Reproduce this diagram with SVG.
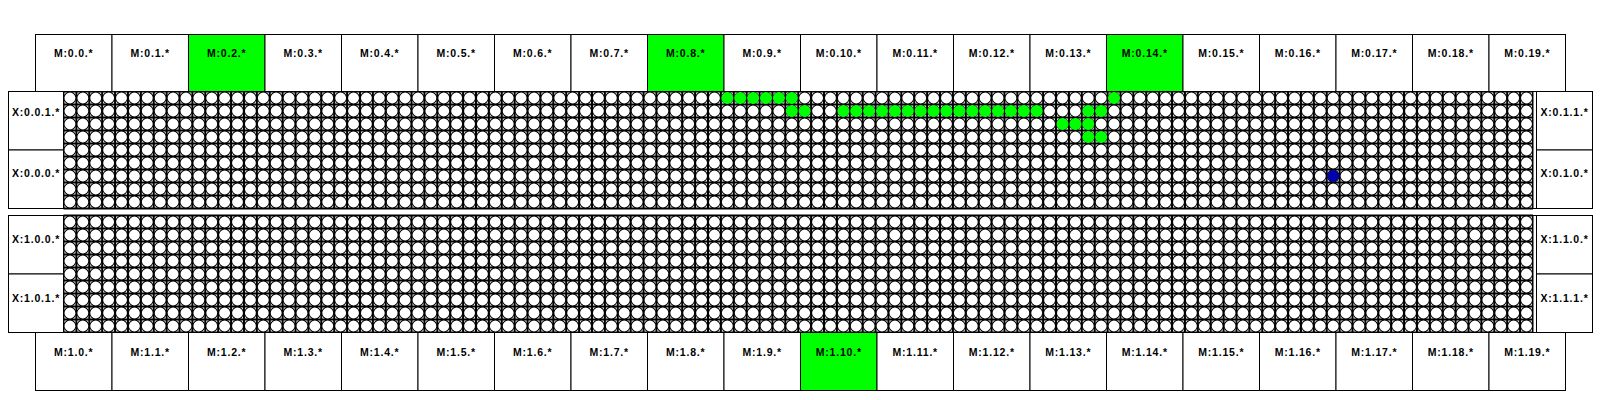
<svg xmlns="http://www.w3.org/2000/svg" width="1600" height="400" viewBox="0 0 1600 400">
<style>
.b{fill:#fff;stroke:#000;stroke-width:1}
.g{fill:#00ff00;stroke:#000;stroke-width:1}
text{font-family:"Liberation Sans",Arial,Helvetica,sans-serif;font-weight:bold;font-size:10.5px;letter-spacing:0.8px;text-anchor:middle;fill:#000}
.vl{fill:none;stroke:#000;stroke-width:117;stroke-dasharray:2 10.89}
.hl{fill:none;stroke:#000;stroke-width:1469.5;stroke-dasharray:2 11}
.ring{fill:none;stroke:#000;stroke-width:12.9;stroke-linecap:round;stroke-dasharray:0 12.89}
.hole{fill:none;stroke:#fff;stroke-width:10.9;stroke-linecap:round;stroke-dasharray:0 12.89}
.on{fill:#00ff00}
.src{fill:#0000aa}
</style>
<rect width="1600" height="400" fill="#fff"/>

<g id="grid0">
<rect class="b" x="63.5" y="91.5" width="1473" height="117"/>
<path class="vl" d="M62.5,150H1533.5"/>
<path class="hl" d="M798.25,90.5V209.5"/>
<path class="ring" d="M69.945,98H1527M69.945,111H1527M69.945,124H1527M69.945,137H1527M69.945,150H1527M69.945,163H1527M69.945,176H1527M69.945,189H1527M69.945,202H1527"/>
<path class="hole" d="M69.945,98H1527M69.945,111H1527M69.945,124H1527M69.945,137H1527M69.945,150H1527M69.945,163H1527M69.945,176H1527M69.945,189H1527M69.945,202H1527"/>
<rect x="63.5" y="91.5" width="1473" height="117" fill="none" stroke="#000"/>
</g>
<g id="grid1">
<rect class="b" x="63.5" y="215.5" width="1473" height="117"/>
<path class="vl" d="M62.5,274H1533.5"/>
<path class="hl" d="M798.25,214.5V333.5"/>
<path class="ring" d="M69.945,222H1527M69.945,235H1527M69.945,248H1527M69.945,261H1527M69.945,274H1527M69.945,287H1527M69.945,300H1527M69.945,313H1527M69.945,326H1527"/>
<path class="hole" d="M69.945,222H1527M69.945,235H1527M69.945,248H1527M69.945,261H1527M69.945,274H1527M69.945,287H1527M69.945,300H1527M69.945,313H1527M69.945,326H1527"/>
<rect x="63.5" y="215.5" width="1473" height="117" fill="none" stroke="#000"/>
</g>

<g id="active-cells">
<circle class="on" cx="727.335" cy="98" r="6"/>
<circle class="on" cx="740.225" cy="98" r="6"/>
<circle class="on" cx="753.115" cy="98" r="6"/>
<circle class="on" cx="766.005" cy="98" r="6"/>
<circle class="on" cx="778.895" cy="98" r="6"/>
<circle class="on" cx="791.785" cy="98" r="6"/>
<circle class="on" cx="1114.035" cy="98" r="6"/>
<circle class="on" cx="791.785" cy="111" r="6"/>
<circle class="on" cx="804.675" cy="111" r="6"/>
<circle class="on" cx="843.345" cy="111" r="6"/>
<circle class="on" cx="856.235" cy="111" r="6"/>
<circle class="on" cx="869.125" cy="111" r="6"/>
<circle class="on" cx="882.015" cy="111" r="6"/>
<circle class="on" cx="894.905" cy="111" r="6"/>
<circle class="on" cx="907.795" cy="111" r="6"/>
<circle class="on" cx="920.685" cy="111" r="6"/>
<circle class="on" cx="933.575" cy="111" r="6"/>
<circle class="on" cx="946.465" cy="111" r="6"/>
<circle class="on" cx="959.355" cy="111" r="6"/>
<circle class="on" cx="972.245" cy="111" r="6"/>
<circle class="on" cx="985.135" cy="111" r="6"/>
<circle class="on" cx="998.025" cy="111" r="6"/>
<circle class="on" cx="1010.915" cy="111" r="6"/>
<circle class="on" cx="1023.805" cy="111" r="6"/>
<circle class="on" cx="1036.695" cy="111" r="6"/>
<circle class="on" cx="1088.255" cy="111" r="6"/>
<circle class="on" cx="1101.145" cy="111" r="6"/>
<circle class="on" cx="1062.475" cy="124" r="6"/>
<circle class="on" cx="1075.365" cy="124" r="6"/>
<circle class="on" cx="1088.255" cy="124" r="6"/>
<circle class="on" cx="1088.255" cy="137" r="6"/>
<circle class="on" cx="1101.145" cy="137" r="6"/>
<circle class="src" cx="1333.165" cy="176" r="6"/>
</g>

<g id="m0-0" transform="translate(35.5,34.5)"><rect class="b" width="76.5" height="57"/><text x="38.25" y="22.5">M:0.0.*</text></g>
<g id="m0-1" transform="translate(112,34.5)"><rect class="b" width="76.5" height="57"/><text x="38.25" y="22.5">M:0.1.*</text></g>
<g id="m0-2" transform="translate(188.5,34.5)"><rect class="g" width="76.5" height="57"/><text x="38.25" y="22.5">M:0.2.*</text></g>
<g id="m0-3" transform="translate(265,34.5)"><rect class="b" width="76.5" height="57"/><text x="38.25" y="22.5">M:0.3.*</text></g>
<g id="m0-4" transform="translate(341.5,34.5)"><rect class="b" width="76.5" height="57"/><text x="38.25" y="22.5">M:0.4.*</text></g>
<g id="m0-5" transform="translate(418,34.5)"><rect class="b" width="76.5" height="57"/><text x="38.25" y="22.5">M:0.5.*</text></g>
<g id="m0-6" transform="translate(494.5,34.5)"><rect class="b" width="76.5" height="57"/><text x="38.25" y="22.5">M:0.6.*</text></g>
<g id="m0-7" transform="translate(571,34.5)"><rect class="b" width="76.5" height="57"/><text x="38.25" y="22.5">M:0.7.*</text></g>
<g id="m0-8" transform="translate(647.5,34.5)"><rect class="g" width="76.5" height="57"/><text x="38.25" y="22.5">M:0.8.*</text></g>
<g id="m0-9" transform="translate(724,34.5)"><rect class="b" width="76.5" height="57"/><text x="38.25" y="22.5">M:0.9.*</text></g>
<g id="m0-10" transform="translate(800.5,34.5)"><rect class="b" width="76.5" height="57"/><text x="38.25" y="22.5">M:0.10.*</text></g>
<g id="m0-11" transform="translate(877,34.5)"><rect class="b" width="76.5" height="57"/><text x="38.25" y="22.5">M:0.11.*</text></g>
<g id="m0-12" transform="translate(953.5,34.5)"><rect class="b" width="76.5" height="57"/><text x="38.25" y="22.5">M:0.12.*</text></g>
<g id="m0-13" transform="translate(1030,34.5)"><rect class="b" width="76.5" height="57"/><text x="38.25" y="22.5">M:0.13.*</text></g>
<g id="m0-14" transform="translate(1106.5,34.5)"><rect class="g" width="76.5" height="57"/><text x="38.25" y="22.5">M:0.14.*</text></g>
<g id="m0-15" transform="translate(1183,34.5)"><rect class="b" width="76.5" height="57"/><text x="38.25" y="22.5">M:0.15.*</text></g>
<g id="m0-16" transform="translate(1259.5,34.5)"><rect class="b" width="76.5" height="57"/><text x="38.25" y="22.5">M:0.16.*</text></g>
<g id="m0-17" transform="translate(1336,34.5)"><rect class="b" width="76.5" height="57"/><text x="38.25" y="22.5">M:0.17.*</text></g>
<g id="m0-18" transform="translate(1412.5,34.5)"><rect class="b" width="76.5" height="57"/><text x="38.25" y="22.5">M:0.18.*</text></g>
<g id="m0-19" transform="translate(1489,34.5)"><rect class="b" width="76.5" height="57"/><text x="38.25" y="22.5">M:0.19.*</text></g>

<g id="m1-0" transform="translate(35.5,332.5)"><rect class="b" width="76.5" height="58"/><text x="38.25" y="23">M:1.0.*</text></g>
<g id="m1-1" transform="translate(112,332.5)"><rect class="b" width="76.5" height="58"/><text x="38.25" y="23">M:1.1.*</text></g>
<g id="m1-2" transform="translate(188.5,332.5)"><rect class="b" width="76.5" height="58"/><text x="38.25" y="23">M:1.2.*</text></g>
<g id="m1-3" transform="translate(265,332.5)"><rect class="b" width="76.5" height="58"/><text x="38.25" y="23">M:1.3.*</text></g>
<g id="m1-4" transform="translate(341.5,332.5)"><rect class="b" width="76.5" height="58"/><text x="38.25" y="23">M:1.4.*</text></g>
<g id="m1-5" transform="translate(418,332.5)"><rect class="b" width="76.5" height="58"/><text x="38.25" y="23">M:1.5.*</text></g>
<g id="m1-6" transform="translate(494.5,332.5)"><rect class="b" width="76.5" height="58"/><text x="38.25" y="23">M:1.6.*</text></g>
<g id="m1-7" transform="translate(571,332.5)"><rect class="b" width="76.5" height="58"/><text x="38.25" y="23">M:1.7.*</text></g>
<g id="m1-8" transform="translate(647.5,332.5)"><rect class="b" width="76.5" height="58"/><text x="38.25" y="23">M:1.8.*</text></g>
<g id="m1-9" transform="translate(724,332.5)"><rect class="b" width="76.5" height="58"/><text x="38.25" y="23">M:1.9.*</text></g>
<g id="m1-10" transform="translate(800.5,332.5)"><rect class="g" width="76.5" height="58"/><text x="38.25" y="23">M:1.10.*</text></g>
<g id="m1-11" transform="translate(877,332.5)"><rect class="b" width="76.5" height="58"/><text x="38.25" y="23">M:1.11.*</text></g>
<g id="m1-12" transform="translate(953.5,332.5)"><rect class="b" width="76.5" height="58"/><text x="38.25" y="23">M:1.12.*</text></g>
<g id="m1-13" transform="translate(1030,332.5)"><rect class="b" width="76.5" height="58"/><text x="38.25" y="23">M:1.13.*</text></g>
<g id="m1-14" transform="translate(1106.5,332.5)"><rect class="b" width="76.5" height="58"/><text x="38.25" y="23">M:1.14.*</text></g>
<g id="m1-15" transform="translate(1183,332.5)"><rect class="b" width="76.5" height="58"/><text x="38.25" y="23">M:1.15.*</text></g>
<g id="m1-16" transform="translate(1259.5,332.5)"><rect class="b" width="76.5" height="58"/><text x="38.25" y="23">M:1.16.*</text></g>
<g id="m1-17" transform="translate(1336,332.5)"><rect class="b" width="76.5" height="58"/><text x="38.25" y="23">M:1.17.*</text></g>
<g id="m1-18" transform="translate(1412.5,332.5)"><rect class="b" width="76.5" height="58"/><text x="38.25" y="23">M:1.18.*</text></g>
<g id="m1-19" transform="translate(1489,332.5)"><rect class="b" width="76.5" height="58"/><text x="38.25" y="23">M:1.19.*</text></g>

<g id="x0-0-1" transform="translate(8.5,91.5)"><rect class="b" width="55" height="58.5"/><text x="27.5" y="24">X:0.0.1.*</text></g>
<g id="x0-0-0" transform="translate(8.5,150)"><rect class="b" width="55" height="58.5"/><text x="27.5" y="27">X:0.0.0.*</text></g>
<g id="x1-0-0" transform="translate(8.5,215.5)"><rect class="b" width="55" height="58.5"/><text x="27.5" y="27.5">X:1.0.0.*</text></g>
<g id="x1-0-1" transform="translate(8.5,274)"><rect class="b" width="55" height="58.5"/><text x="27.5" y="28.3">X:1.0.1.*</text></g>
<g id="x0-1-1" transform="translate(1536.5,91.5)"><rect class="b" width="56" height="58.5"/><text x="28" y="24">X:0.1.1.*</text></g>
<g id="x0-1-0" transform="translate(1536.5,150)"><rect class="b" width="56" height="58.5"/><text x="28" y="27">X:0.1.0.*</text></g>
<g id="x1-1-0" transform="translate(1536.5,215.5)"><rect class="b" width="56" height="58.5"/><text x="28" y="27.5">X:1.1.0.*</text></g>
<g id="x1-1-1" transform="translate(1536.5,274)"><rect class="b" width="56" height="58.5"/><text x="28" y="28.3">X:1.1.1.*</text></g>

<g id="connectors"></g>
</svg>
